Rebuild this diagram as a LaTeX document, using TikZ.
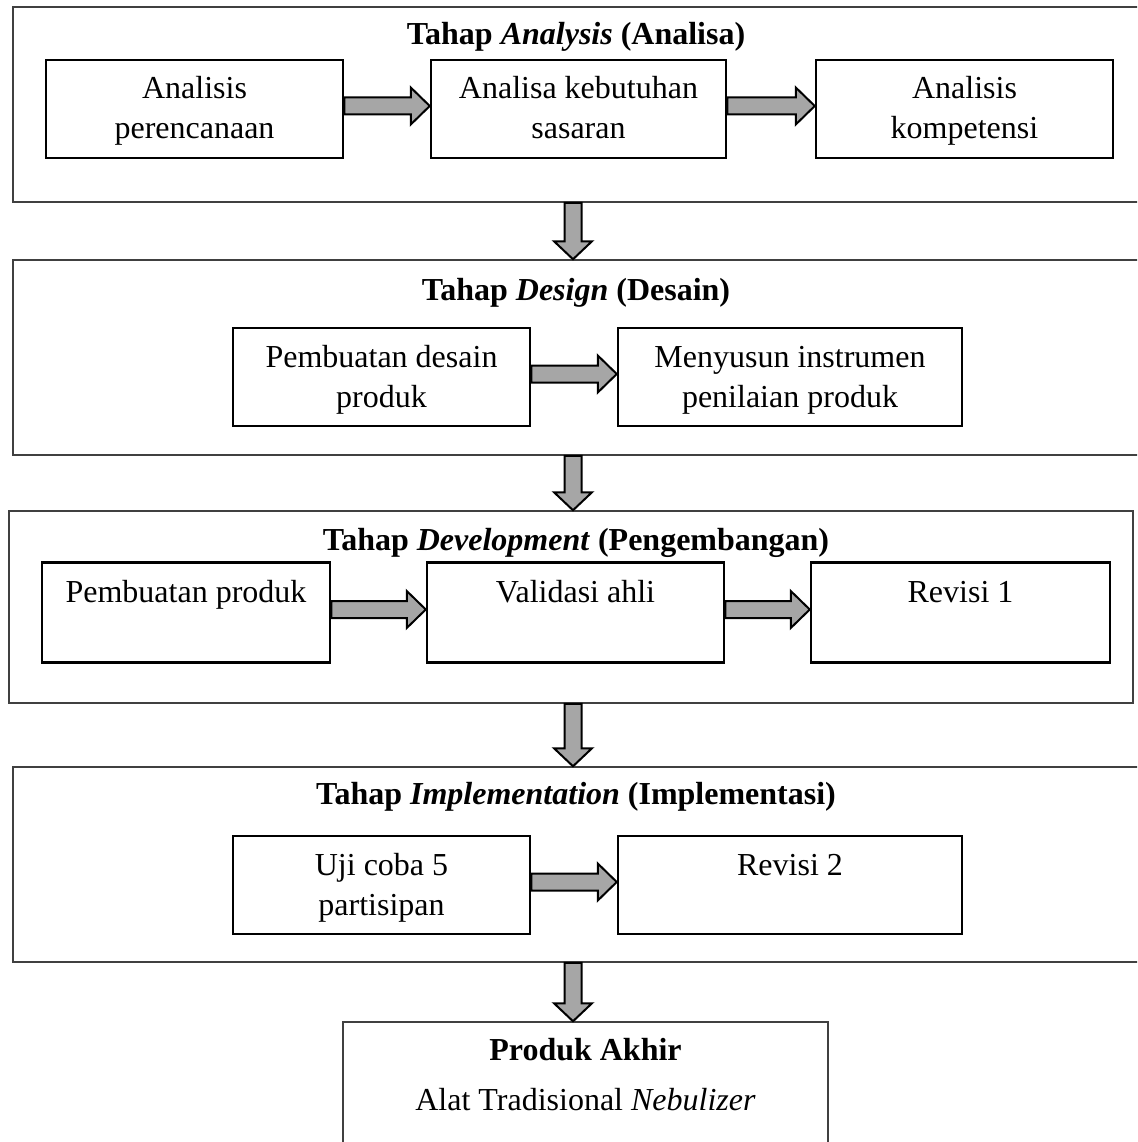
\documentclass[tikz,border=0pt]{standalone}
\usepackage{fontspec}
\setmainfont{Liberation Serif}
\usetikzlibrary{calc}
\definecolor{arrowgray}{HTML}{A6A6A6}
\definecolor{framegray}{HTML}{404040}
\tikzset{
  stage/.style={draw=framegray, line width=1.5pt, inner sep=0pt},
  stepbox/.style={draw=black, line width=2.5pt, inner sep=0pt, align=center, font=\fontsize{32}{40}\selectfont},
  titletext/.style={inner sep=0pt, font=\fontsize{32}{40}\selectfont\bfseries},
  plaintext/.style={inner sep=0pt, font=\fontsize{32}{40}\selectfont},
  blockarrow/.style={draw=black, line width=2pt, fill=arrowgray, line join=miter},
}
\newcommand\tst{\rule{0pt}{30pt}}
\newcommand\bst{\rule[-10pt]{0pt}{10pt}}
\newcommand\hblock[2]{\draw[blockarrow] let \p1=($(#1.east)+(0,-3)$), \p2=(#2.west) in
  (\x1,\y1+8.5pt) -- (\x2-19pt,\y1+8.5pt) -- (\x2-19pt,\y1+18.5pt) -- (\x2,\y1)
  -- (\x2-19pt,\y1-18.5pt) -- (\x2-19pt,\y1-8.5pt) -- (\x1,\y1-8.5pt) -- cycle;}
\newcommand\vblock[3]{\draw[blockarrow] let \p1=(#1.south), \p2=(#2.north), \p3=($(#3)+(-3,0)$) in
  (\x3-8.5pt,\y1) -- (\x3-8.5pt,\y2+18pt) -- (\x3-19pt,\y2+18pt) -- (\x3,\y2)
  -- (\x3+19pt,\y2+18pt) -- (\x3+8.5pt,\y2+18pt) -- (\x3+8.5pt,\y1) -- cycle;}
\begin{document}
\begin{tikzpicture}[x=1pt, y=-1pt]
\useasboundingbox (0,0) rectangle (1137,1142);
\fill[white] (0,0) rectangle (1137,1142);
\clip (0,0) rectangle (1137,1142);

% Stage frames
\node[stage, minimum width=1132pt, minimum height=195pt] (s1) at (579,104.5) {};
\node[stage, minimum width=1132pt, minimum height=195pt] (s2) at (579,357.5) {};
\node[stage, minimum width=1124pt, minimum height=192pt] (s3) at (571,607) {};
\node[stage, minimum width=1132pt, minimum height=195pt] (s4) at (579,864.5) {};
\node[stage, minimum width=485pt, minimum height=160pt] (p) at (585.5,1102) {};

% Titles
\node[titletext] (t1) at (576,37) {Tahap \textit{Analysis} (Analisa)};
\node[titletext] (t2) at (576,293) {Tahap \textit{Design} (Desain)};
\node[titletext] (t3) at (576,543) {Tahap \textit{Development} (Pengembangan)};
\node[titletext] (t4) at (576,797) {Tahap \textit{Implementation} (Implementasi)};

% Stage 1
\node[stepbox, minimum width=297pt, minimum height=98pt] (a) at (194.5,109) {\tst Analisis\\perencanaan\bst};
\node[stepbox, minimum width=295pt, minimum height=98pt] (b) at (578.5,109) {\tst Analisa kebutuhan\\sasaran\bst};
\node[stepbox, minimum width=297pt, minimum height=98pt] (c) at (964.5,109) {\tst Analisis\\kompetensi\bst};

% Stage 2
\node[stepbox, minimum width=297pt, minimum height=98pt] (d) at (381.5,377) {\tst Pembuatan desain\\produk\bst};
\node[stepbox, minimum width=344pt, minimum height=98pt] (e) at (790,377) {\tst Menyusun instrumen\\penilaian produk\bst};

% Stage 3
\node[stepbox, minimum width=288pt, minimum height=100pt] (f) at (186,612.5) {\tst Pembuatan produk\\\bst};
\node[stepbox, minimum width=297pt, minimum height=100pt] (g) at (575.5,612.5) {\tst Validasi ahli\\\bst};
\node[stepbox, minimum width=299pt, minimum height=100pt] (h) at (960.5,612.5) {\tst Revisi 1\\\bst};

% Stage 4
\node[stepbox, minimum width=297pt, minimum height=98pt] (i) at (381.5,885) {\tst Uji coba 5\\partisipan\bst};
\node[stepbox, minimum width=344pt, minimum height=98pt] (j) at (790,885) {\tst Revisi 2\\\bst};

% Final product text
\node[titletext] (pt) at (585.5,1050) {Produk Akhir};
\node[plaintext] (pa) at (585.5,1100) {Alat Tradisional \textit{Nebulizer}};

% Horizontal arrows
\hblock{a}{b}
\hblock{b}{c}
\hblock{d}{e}
\hblock{f}{g}
\hblock{g}{h}
\hblock{i}{j}

% Vertical arrows
\vblock{s1}{s2}{t1}
\vblock{s2}{s3}{t2}
\vblock{s3}{s4}{t3}
\vblock{s4}{p}{t4}
\end{tikzpicture}
\end{document}
